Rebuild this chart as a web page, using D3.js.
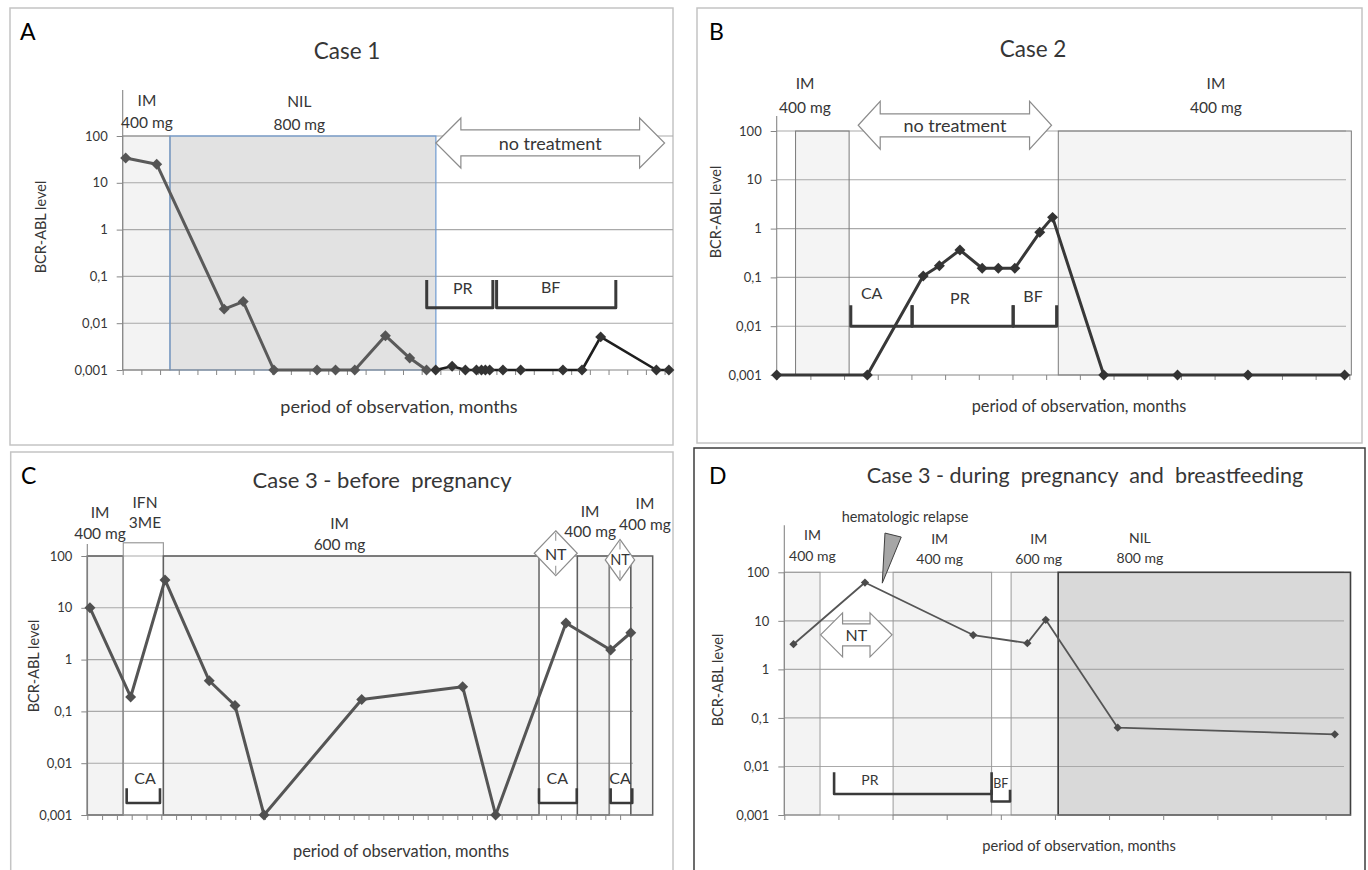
<!DOCTYPE html>
<html>
<head>
<meta charset="utf-8">
<script src="https://cdn.jsdelivr.net/npm/d3@7"></script>
<style>
  body { margin: 0; background: #fff; }
  svg { display: block; }
</style>
</head>
<body>
<div id="chart"></div>
<script>
const levelTicks = [0.001, 0.01, 0.1, 1, 10, 100];
const levelTickLabels = ['0,001', '0,01', '0,1', '1', '10', '100'];

// Case 1 (A): months since start, BCR-ABL level
const case1NilMonths = [0.16, 1.82, 5.43, 6.45, 8.09, 10.4, 11.39, 12.42, 14.06, 15.36, 16.26];
const case1NilLevels = [34, 25, 0.02, 0.029, 0.001, 0.001, 0.001, 0.001, 0.0054, 0.0018, 0.001];
const case1OffMonths = [16.75, 17.63, 18.34, 18.93, 19.2, 19.41, 19.64, 20.35, 21.3, 23.56, 24.58, 25.58, 28.56, 29.23];
const case1OffLevels = [0.001, 0.0012, 0.001, 0.001, 0.001, 0.001, 0.001, 0.001, 0.001, 0.001, 0.001, 0.0051, 0.001, 0.001];

// Case 2 (B)
const case2Months = [0, 2.69, 4.35, 4.83, 5.44, 6.1, 6.58, 7.07, 7.81, 8.19, 9.71, 11.9, 13.99, 16.86];
const case2Levels = [0.001, 0.001, 0.107, 0.174, 0.364, 0.154, 0.154, 0.154, 0.84, 1.7, 0.001, 0.001, 0.001, 0.001];

// Case 3 before pregnancy (C)
const case3aMonths = [0.18, 2.93, 5.25, 8.24, 9.98, 11.94, 18.54, 25.36, 27.59, 32.34, 35.36, 36.72];
const case3aLevels = [10, 0.19, 34.5, 0.39, 0.13, 0.001, 0.17, 0.3, 0.001, 5.1, 1.53, 3.3];

// Case 3 during pregnancy and breastfeeding (D)
const case3bMonths = [0.17, 1.49, 3.49, 4.49, 4.83, 6.16, 10.17];
const case3bLevels = [3.3, 61.6, 5.1, 3.47, 10.5, 0.063, 0.046];

// treatment periods (month ranges)
const case1Periods = [
  { from: 0, to: 2.53, kind: 'im' },
  { from: 2.53, to: 16.76, kind: 'nil' }
];
const case2Periods = [
  { from: 0.56, to: 2.15, kind: 'im' },
  { from: 8.36, to: 17.06, kind: 'im' }
];
const case3aPeriods = [
  { from: 0, to: 2.43, kind: 'im' },
  { from: 2.43, to: 5.14, kind: 'ifn', top: 180 },
  { from: 5.14, to: 30.52, kind: 'im' },
  { from: 30.52, to: 33.11, kind: 'off' },
  { from: 33.11, to: 35.27, kind: 'im' },
  { from: 35.27, to: 36.72, kind: 'off' },
  { from: 36.72, to: 38.2, kind: 'im' }
];
const case3bPeriods = [
  { from: 0, to: 0.66, kind: 'im' },
  { from: 2.01, to: 3.83, kind: 'im' },
  { from: 4.19, to: 5.06, kind: 'im' },
  { from: 5.06, to: 10.46, kind: 'nil' }
];

// PR = pregnancy, BF = breastfeeding, CA = conception attempt
const case1Brackets = [
  { from: 16.27, to: 19.81, top: 0.084, bottom: 0.0214, label: 'PR', at: 18.2, level: 0.059 },
  { from: 20.01, to: 26.39, top: 0.084, bottom: 0.0214, label: 'BF', at: 22.9, level: 0.062 }
];
const case2Brackets = [
  { from: 2.2, to: 4.02, top: 0.027, bottom: 0.01, label: 'CA', at: 2.82, level: 0.048 },
  { from: 4.02, to: 7.02, top: 0.027, bottom: 0.01, label: 'PR', at: 5.44, level: 0.038 },
  { from: 7.02, to: 8.31, top: 0.027, bottom: 0.01, label: 'BF', at: 7.61, level: 0.0435 }
];
const case3aBrackets = [
  { from: 2.66, to: 4.91, top: 0.0033, bottom: 0.0017, label: 'CA', at: 3.9, level: 0.0054 },
  { from: 30.52, to: 33.07, top: 0.0033, bottom: 0.0017, label: 'CA', at: 31.76, level: 0.0054 },
  { from: 35.36, to: 36.82, top: 0.0033, bottom: 0.0017, label: 'CA', at: 35.99, level: 0.0054 }
];
const case3bBrackets = [
  { from: 0.92, to: 3.83, top: 0.0076, bottom: 0.0027, label: 'PR', at: 1.58, level: 0.0053 },
  { from: 3.83, to: 4.17, top: 0.0033, bottom: 0.0019, label: 'BF', at: 4.0, level: 0.0045, small: true }
];

// treatment names above the periods (rise = px above the 100 line)
const case1Drugs = [
  { at: 1.3, lines: ['IM', '400 mg'], rise: [36, 14] },
  { at: 9.45, lines: ['NIL', '800 mg'], rise: [35, 12] }
];
const case2Drugs = [
  { at: 0.84, lines: ['IM', '400 mg'], rise: [48, 24] },
  { at: 13.04, lines: ['IM', '400 mg'], rise: [48, 24] }
];
const case3aDrugs = [
  { at: 0.86, lines: ['IM', '400 mg'], rise: [44, 23] },
  { at: 3.9, lines: ['IFN', '3ME'], rise: [54, 34] },
  { at: 17.04, lines: ['IM', '600 mg'], rise: [33, 12] },
  { at: 33.97, lines: ['IM', '400 mg'], rise: [45, 25] },
  { at: 37.68, lines: ['IM', '400 mg'], rise: [53, 32] }
];
const case3bDrugs = [
  { at: 0.52, lines: ['IM', '400 mg'], rise: [38, 17] },
  { at: 2.87, lines: ['IM', '400 mg'], rise: [34, 14] },
  { at: 4.7, lines: ['IM', '600 mg'], rise: [34, 14] },
  { at: 6.57, lines: ['NIL', '800 mg'], rise: [35, 15] }
];

const FONT = 'Lato, "Open Sans", sans-serif';
const TEXT = '#363636';

const svg = d3.select('#chart').append('svg')
  .attr('width', 1368).attr('height', 870)
  .style('font-family', FONT);

function arrowPath(xa, xb, cy, headLen, headHalf, shaftHalf) {
  return d3.line()([
    [xa, cy], [xa + headLen, cy - headHalf], [xa + headLen, cy - shaftHalf],
    [xb - headLen, cy - shaftHalf], [xb - headLen, cy - headHalf], [xb, cy],
    [xb - headLen, cy + headHalf], [xb - headLen, cy + shaftHalf],
    [xa + headLen, cy + shaftHalf], [xa + headLen, cy + headHalf]
  ]) + 'Z';
}

function drawPanel(p) {
  const g = svg.append('g');
  const x = d3.scaleLinear().domain(p.xDomain).range(p.xRange);
  const y = d3.scaleLog().domain([0.001, 100]).range(p.yRange);
  const x0 = p.xRange[0];
  const y0 = y(0.001);
  const yTop = y(100);

  g.append('rect')
    .attr('x', p.frame[0]).attr('y', p.frame[1])
    .attr('width', p.frame[2] - p.frame[0]).attr('height', p.frame[3] - p.frame[1])
    .attr('fill', '#fff').attr('stroke', p.frameColor).attr('stroke-width', 1.5);

  // period fills
  g.selectAll('.fill').data(p.periods).enter().append('rect')
    .attr('x', d => x(d.from)).attr('width', d => x(d.to) - x(d.from))
    .attr('y', d => y(d.top || 100)).attr('height', d => y0 - y(d.top || 100))
    .attr('fill', d => p.periodStyle[d.kind].fill);

  // gridlines
  g.selectAll('.grid').data(levelTicks.slice(1)).enter().append('line')
    .attr('x1', x0).attr('x2', p.gridRight)
    .attr('y1', d => y(d)).attr('y2', d => y(d))
    .attr('stroke', '#a9a9a9').attr('stroke-width', 1.1);

  // period outlines
  g.selectAll('.edge').data(p.periods).enter().append('rect')
    .attr('x', d => x(d.from)).attr('width', d => x(d.to) - x(d.from))
    .attr('y', d => y(d.top || 100)).attr('height', d => y0 - y(d.top || 100))
    .attr('fill', 'none')
    .attr('stroke', d => p.periodStyle[d.kind].stroke)
    .attr('stroke-width', d => p.periodStyle[d.kind].width);

  // axes
  const yAxis = g.append('g').attr('transform', `translate(${x0},0)`)
    .call(d3.axisLeft(y).tickValues(levelTicks)
      .tickFormat((d, i) => levelTickLabels[i])
      .tickSize(6).tickPadding(9).tickSizeOuter(0));
  yAxis.select('.domain').remove();
  yAxis.selectAll('line').attr('stroke', '#868686');
  yAxis.attr('font-family', FONT).attr('font-size', p.tickFont);
  yAxis.selectAll('text').attr('fill', TEXT);

  const xAxis = g.append('g').attr('transform', `translate(0,${y0})`)
    .call(d3.axisBottom(x).tickValues(d3.range(0, Math.floor(p.xDomain[1]) + 1))
      .tickFormat('').tickSize(5).tickSizeOuter(0));
  xAxis.select('.domain').remove();
  xAxis.selectAll('line').attr('stroke', '#868686');

  g.append('line').attr('x1', x0).attr('x2', x0)
    .attr('y1', yTop - p.axisExt).attr('y2', y0)
    .attr('stroke', '#868686').attr('stroke-width', 1.1);
  g.append('line').attr('x1', x0).attr('x2', p.axisRight)
    .attr('y1', y0).attr('y2', y0)
    .attr('stroke', '#868686').attr('stroke-width', 1.1);

  // no-treatment arrows
  (p.arrows || []).forEach(a => {
    const cy = y(a.level);
    g.append('path')
      .attr('d', arrowPath(x(a.from), x(a.to), cy, a.head[0], a.head[1], a.head[2]))
      .attr('fill', '#fff').attr('stroke', '#8c8c8c').attr('stroke-width', 1.2);
    g.append('text').attr('x', (x(a.from) + x(a.to)) / 2).attr('y', cy)
      .attr('text-anchor', 'middle').attr('dominant-baseline', 'central')
      .attr('font-size', a.font).attr('fill', TEXT).text(a.label);
  });

  // NT diamonds (panel C)
  (p.diamonds || []).forEach(d => {
    const cx = x(d.at), cy = y(d.level), hw = d.size[0], hh = d.size[1];
    g.append('path')
      .attr('d', d3.line()([[cx, cy - hh], [cx + hw, cy], [cx, cy + hh], [cx - hw, cy]]) + 'Z')
      .attr('fill', '#fff').attr('stroke', '#8c8c8c').attr('stroke-width', 1.2);
    [[cy - hh + 2, cy - hh + 10], [cy + hh - 2, cy + hh - 10]].forEach(s => {
      g.append('line').attr('x1', cx).attr('x2', cx).attr('y1', s[0]).attr('y2', s[1])
        .attr('stroke', '#8c8c8c').attr('stroke-width', 1);
    });
    g.append('text').attr('x', cx).attr('y', cy)
      .attr('text-anchor', 'middle').attr('dominant-baseline', 'central')
      .attr('font-size', d.font).attr('fill', TEXT).text('NT');
  });

  // brackets
  p.brackets.forEach(b => {
    g.append('path')
      .attr('d', d3.line()([[x(b.from), y(b.top)], [x(b.from), y(b.bottom)], [x(b.to), y(b.bottom)], [x(b.to), y(b.top)]]))
      .attr('fill', 'none').attr('stroke', '#3a3a3a').attr('stroke-width', p.bracketWidth)
      .attr('stroke-linejoin', 'round');
    g.append('text').attr('x', x(b.at)).attr('y', y(b.level))
      .attr('text-anchor', 'middle').attr('dominant-baseline', 'central')
      .attr('font-size', b.small ? p.bracketFont[1] : p.bracketFont[0])
      .attr('fill', TEXT).text(b.label);
  });

  // series
  p.series.forEach(s => {
    const pts = d3.zip(s.months, s.levels);
    g.append('path').datum(pts)
      .attr('d', d3.line().x(d => x(d[0])).y(d => y(d[1])))
      .attr('fill', 'none').attr('stroke', s.color).attr('stroke-width', s.width)
      .attr('stroke-linejoin', 'round');
    g.selectAll(null).data(pts).enter().append('path')
      .attr('d', d3.symbol(d3.symbolSquare, s.marker))
      .attr('transform', d => `translate(${x(d[0])},${y(d[1])}) rotate(45)`)
      .attr('fill', s.markerColor);
  });

  // relapse pointer (panel D)
  if (p.pointer) {
    g.append('path')
      .attr('d', d3.line()(p.pointer.corners.map(c => [x(c[0]), y(c[1])])) + 'Z')
      .attr('fill', '#a6a6a6').attr('stroke', '#404040').attr('stroke-width', 1);
    g.append('text').attr('x', x(p.pointer.at)).attr('y', yTop - p.pointer.rise)
      .attr('text-anchor', 'middle').attr('dominant-baseline', 'central')
      .attr('font-size', 14.5).attr('fill', TEXT).text(p.pointer.label);
  }

  // drug labels
  p.drugs.forEach(d => {
    d.lines.forEach((line, i) => {
      g.append('text').attr('x', x(d.at)).attr('y', yTop - d.rise[i])
        .attr('text-anchor', 'middle').attr('dominant-baseline', 'central')
        .attr('font-size', p.drugFont).attr('fill', TEXT).text(line);
    });
  });

  // titles
  g.append('text').attr('x', p.letter[0]).attr('y', p.letter[1])
    .attr('font-size', 23).attr('fill', '#000').text(p.name);
  g.append('text').attr('x', p.title[0]).attr('y', p.title[1])
    .attr('text-anchor', 'middle').attr('font-size', p.titleFont)
    .attr('fill', TEXT).style('white-space', 'pre').text(p.titleText);
  g.append('text')
    .attr('transform', `translate(${p.yTitle[0]},${p.yTitle[1]}) rotate(-90)`)
    .attr('text-anchor', 'middle').attr('dominant-baseline', 'central')
    .attr('font-size', 14.5).attr('fill', TEXT).text('BCR-ABL level');
  g.append('text').attr('x', p.xTitle[0]).attr('y', p.xTitle[1])
    .attr('text-anchor', 'middle').attr('dominant-baseline', 'central')
    .attr('font-size', p.xTitleFont).attr('fill', TEXT).text('period of observation, months');
}

drawPanel({
  name: 'A', titleText: 'Case 1',
  frame: [10, 8, 673, 445], frameColor: '#c4c4c4',
  xDomain: [0, 29.45], xRange: [122.7, 673], yRange: [370, 136],
  gridRight: 673, axisRight: 673, axisExt: 46,
  periods: case1Periods,
  periodStyle: {
    im: { fill: '#f3f3f3', stroke: '#8c8c8c', width: 1 },
    nil: { fill: '#e2e2e2', stroke: '#6f9bd1', width: 1.2 }
  },
  arrows: [{ from: 16.76, to: 29.0, level: 71, label: 'no treatment', head: [25, 25, 13], font: 18 }],
  brackets: case1Brackets, bracketWidth: 3, bracketFont: [16, 16],
  series: [
    { months: case1NilMonths, levels: case1NilLevels, color: '#5a5a5a', width: 3, marker: 60, markerColor: '#555' },
    { months: case1OffMonths, levels: case1OffLevels, color: '#1e1e1e', width: 2.6, marker: 60, markerColor: '#333' }
  ],
  drugs: case1Drugs, drugFont: 15.5,
  tickFont: 13,
  letter: [20, 40], title: [347, 59], titleFont: 22.5,
  yTitle: [40, 227], xTitle: [399, 406], xTitleFont: 18
});

drawPanel({
  name: 'B', titleText: 'Case 2',
  frame: [697, 8, 1362, 443], frameColor: '#c4c4c4',
  xDomain: [0, 17.05], xRange: [776.7, 1351], yRange: [375, 131],
  gridRight: 1346, axisRight: 1351, axisExt: 15,
  periods: case2Periods,
  periodStyle: { im: { fill: '#f4f4f4', stroke: '#7a7a7a', width: 1 } },
  arrows: [{ from: 2.42, to: 8.16, level: 131, label: 'no treatment', head: [22, 24, 11.5], font: 18 }],
  brackets: case2Brackets, bracketWidth: 3, bracketFont: [16, 16],
  series: [
    { months: case2Months, levels: case2Levels, color: '#383838', width: 3, marker: 60, markerColor: '#333' }
  ],
  drugs: case2Drugs, drugFont: 15.5,
  tickFont: 13,
  letter: [709, 40], title: [1033, 57], titleFont: 22.5,
  yTitle: [715, 212], xTitle: [1079, 405], xTitleFont: 16.3
});

drawPanel({
  name: 'C', titleText: 'Case 3 - before  pregnancy',
  frame: [10.7, 452, 673, 880], frameColor: '#c4c4c4',
  xDomain: [0, 36.87], xRange: [87.3, 633], yRange: [815, 556],
  gridRight: 633, axisRight: 652.7, axisExt: 12,
  periods: case3aPeriods,
  periodStyle: {
    im: { fill: '#f3f3f3', stroke: '#5f5f5f', width: 1.5 },
    ifn: { fill: '#fff', stroke: '#9a9a9a', width: 1.2 },
    off: { fill: '#fff', stroke: '#8c8c8c', width: 1 }
  },
  diamonds: [
    { at: 31.65, level: 113, size: [21.5, 22.5], font: 16 },
    { at: 35.99, level: 84, size: [14.7, 20.5], font: 14.5 }
  ],
  brackets: case3aBrackets, bracketWidth: 2.6, bracketFont: [16, 16],
  series: [
    { months: case3aMonths, levels: case3aLevels, color: '#555', width: 3, marker: 60, markerColor: '#505050' }
  ],
  drugs: case3aDrugs, drugFont: 15.5,
  tickFont: 13,
  letter: [21, 484], title: [382, 488], titleFont: 22,
  yTitle: [33.5, 666], xTitle: [401, 850], xTitleFont: 16.4
});

drawPanel({
  name: 'D', titleText: 'Case 3 - during  pregnancy  and  breastfeeding',
  frame: [694, 448, 1365, 880], frameColor: '#3c3c3c',
  xDomain: [0, 10.34], xRange: [784.3, 1344], yRange: [815, 572.3],
  gridRight: 1344, axisRight: 1350.7, axisExt: 47,
  periods: case3bPeriods,
  periodStyle: {
    im: { fill: '#f3f3f3', stroke: '#9a9a9a', width: 1 },
    nil: { fill: '#d9d9d9', stroke: '#404040', width: 1.6 }
  },
  arrows: [{ from: 0.67, to: 1.99, level: 5.14, label: 'NT', head: [22, 22, 11], font: 16 }],
  brackets: case3bBrackets, bracketWidth: 2.6, bracketFont: [14, 12.5],
  series: [
    { months: case3bMonths, levels: case3bLevels, color: '#555', width: 1.8, marker: 34, markerColor: '#4a4a4a' }
  ],
  pointer: { label: 'hematologic relapse', at: 2.23, rise: 56, corners: [[1.86, 643], [2.16, 532], [1.81, 59.8]] },
  drugs: case3bDrugs, drugFont: 14,
  tickFont: 13,
  letter: [709, 484], title: [1085, 483], titleFont: 21.5,
  yTitle: [717.5, 680], xTitle: [1079, 845], xTitleFont: 14.7
});
</script>
</body>
</html>
